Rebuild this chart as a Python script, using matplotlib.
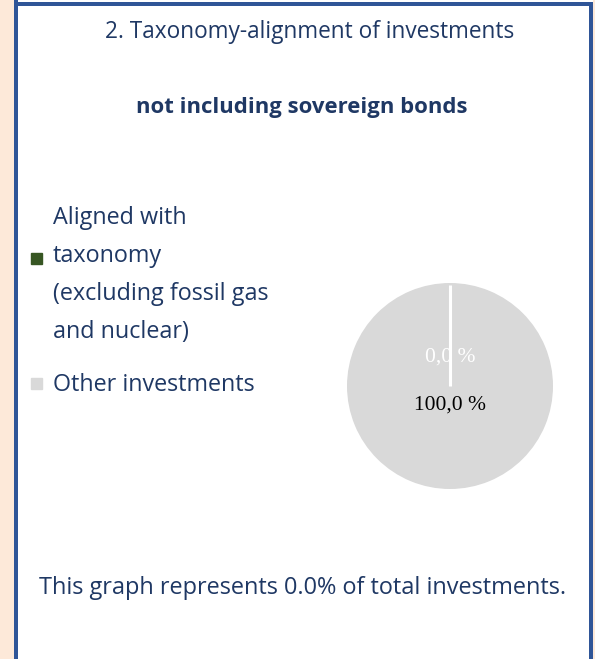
import matplotlib
matplotlib.use("Agg")
import matplotlib.pyplot as plt
from matplotlib.patches import Rectangle
import numpy as np

# ---- data ----
categories = ["Aligned with\ntaxonomy\n(excluding fossil gas\nand nuclear)", "Other investments"]
values = [0.0, 100.0]
value_labels = ["0,0 %", "100,0 %"]
title = "2. Taxonomy-alignment of investments"
subtitle = "not including sovereign bonds"
footer = "This graph represents 0.0% of total investments."

W, H = 595, 659
DPI = 100
fig = plt.figure(figsize=(W / DPI, H / DPI), dpi=DPI)
fig.patch.set_facecolor("white")

navy = "#1F3864"
border = "#2F5597"
peach = "#FDE9D9"
colors = ["#375623", "#D9D9D9"]

def fx(px):
    return px / W

def fy(py):
    return 1 - py / H

# background strips and border
def rect(x0, y0, w, h, c, z):
    fig.add_artist(Rectangle((fx(x0), fy(y0 + h)), w / W, h / H, transform=fig.transFigure,
                             facecolor=c, edgecolor="none", zorder=z, antialiased=False))

rect(0, 0, 14, H, peach, 0)
rect(593, 0, W - 593, H, peach, 0)
rect(14, 0, 4, H, border, 1)
rect(589, 2, 4, H - 2, border, 1)
rect(14, 2, 579, 4, border, 1)

font = "Open Sans"
fs = 16.8
fig.text(fx(310), fy(32), title, ha="center", va="center", fontsize=16.3, color=navy, family=font)
fig.text(fx(302), fy(107), subtitle, ha="center", va="center", fontsize=15.9, color=navy,
         family=font, fontweight="bold")
fig.text(fx(302.5), fy(588), footer, ha="center", va="center", fontsize=16.9, color=navy, family=font)

# legend (manual)
marker_y = [fy(258), fy(383)]
text_y = [fy(275), fy(385)]
for i, (lab, col) in enumerate(zip(categories, colors)):
    fig.add_artist(Rectangle((fx(31), marker_y[i] - 5.5 / H), 11 / W, 11 / H,
                             transform=fig.transFigure, color=col, zorder=2))
    fig.text(fx(53), text_y[i], lab, ha="left", va="center", fontsize=fs, color=navy,
             family=font, linespacing=1.77)

# pie
cx, cy, r = 450, 386, 103
ax = fig.add_axes([fx(cx - r), fy(cy + r), 2 * r / W, 2 * r / H])
wedges, _ = ax.pie(values, colors=colors, startangle=90, counterclock=False,
                   wedgeprops=dict(edgecolor="white", linewidth=0), radius=1.0)
ax.set_xlim(-1, 1)
ax.set_ylim(-1, 1)
ax.set_aspect("auto")
ax.axis("off")

# white separator at the boundary of the (zero-size) first wedge
for w in wedges:
    if w.theta2 - w.theta1 < 1e-6:
        a = np.deg2rad(w.theta1)
        ax.plot([0, np.cos(a) * 0.985], [0, np.sin(a) * 0.985], color="white", lw=2.2,
                solid_capstyle="butt", zorder=5)

# value labels placed at each wedge's mid-angle
dists = [0.28, 0.185]
tcolors = ["white", "black"]
for w, lab, d, tc in zip(wedges, value_labels, dists, tcolors):
    ang = np.deg2rad((w.theta1 + w.theta2) / 2)
    ax.text(d * np.cos(ang), d * np.sin(ang), lab, ha="center", va="center",
            fontsize=15.5, color=tc, family="Liberation Serif", zorder=6)

fig.savefig("out.png", dpi=DPI, facecolor=fig.get_facecolor())
